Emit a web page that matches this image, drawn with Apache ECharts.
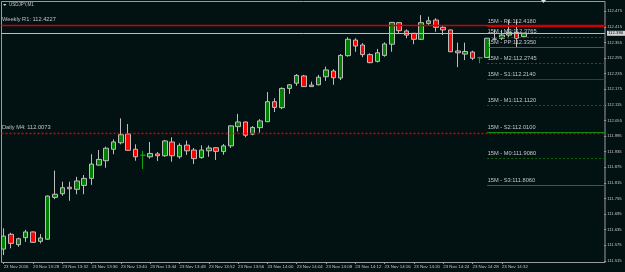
<!DOCTYPE html>
<html>
<head>
<meta charset="utf-8">
<script src="https://cdn.jsdelivr.net/npm/echarts@6/dist/echarts.min.js"></script>
<style>
html, body { margin: 0; padding: 0; background: #021213; }
#chart { width: 625px; height: 272px; }
</style>
</head>
<body>
<div id="chart"></div>
<script>
// minutes on 23 Nov 2016 (M1 bars), last 10 slots are the empty chart shift
var times = [
    '13:24','13:25','13:26','13:27','13:28','13:29','13:30','13:31','13:32','13:33',
    '13:34','13:35','13:36','13:37','13:38','13:39','13:40','13:41','13:42','13:43',
    '13:44','13:45','13:46','13:47','13:48','13:49','13:50','13:51','13:52','13:53',
    '13:54','13:55','13:56','13:57','13:58','13:59','14:00','14:01','14:02','14:03',
    '14:04','14:05','14:06','14:07','14:08','14:09','14:10','14:11','14:12','14:13',
    '14:14','14:15','14:16','14:17','14:18','14:19','14:20','14:21','14:22','14:23',
    '14:24','14:25','14:26','14:27','14:28','14:29','14:30','14:31','14:32','14:33',
    '14:34','14:35','14:36','14:37','14:38','14:39','14:40','14:41','14:42','14:43',
    '14:44','14:45'
];

var opens = [
    111.560, 111.617, 111.577, 111.604, 111.626, 111.590, 111.598, 111.759, 111.773, 111.798,
    111.790, 111.805, 111.832, 111.883, 111.900, 111.944, 111.969, 112.003, 111.944, 111.921,
    111.915, 111.926, 111.919, 111.972, 111.915, 111.960, 111.941, 111.912, 111.938, 111.950,
    111.935, 111.957, 112.031, 112.049, 112.002, 112.027, 112.050, 112.127, 112.104, 112.178,
    112.198, 112.226, 112.185, 112.192, 112.223, 112.245, 112.218, 112.304, 112.364, 112.345,
    112.308, 112.282, 112.305, 112.348, 112.431, 112.399, 112.390, 112.367, 112.428, 112.441,
    112.413, 112.403, 112.322, 112.310, 112.318, 112.296, 112.297, 112.368, 112.371, 112.383,
    112.394, 112.377
];
var closes = [
    111.610, 111.582, 111.600, 111.626, 111.586, 111.603, 111.764, 111.771, 111.796, 111.792,
    111.822, 111.832, 111.887, 111.905, 111.948, 111.972, 112.000, 111.940, 111.915, 111.921,
    111.928, 111.919, 111.976, 111.919, 111.959, 111.938, 111.908, 111.941, 111.949, 111.936,
    111.957, 112.034, 112.049, 111.998, 112.028, 112.053, 112.127, 112.105, 112.178, 112.192,
    112.228, 112.185, 112.191, 112.221, 112.249, 112.219, 112.305, 112.367, 112.341, 112.308,
    112.277, 112.315, 112.349, 112.432, 112.400, 112.383, 112.367, 112.431, 112.438, 112.413,
    112.403, 112.319, 112.315, 112.320, 112.294, 112.296, 112.371, 112.367, 112.383, 112.394,
    112.371, 112.390
];
var lows = [
    111.537, 111.563, 111.569, 111.588, 111.584, 111.582, 111.596, 111.752, 111.765, 111.746,
    111.771, 111.771, 111.807, 111.882, 111.873, 111.925, 111.963, 111.939, 111.900, 111.868,
    111.908, 111.899, 111.915, 111.896, 111.908, 111.922, 111.887, 111.908, 111.915, 111.903,
    111.923, 111.949, 112.012, 111.990, 111.998, 112.008, 112.049, 112.087, 112.098, 112.157,
    112.188, 112.184, 112.184, 112.190, 112.207, 112.192, 112.210, 112.300, 112.319, 112.298,
    112.275, 112.278, 112.300, 112.319, 112.387, 112.371, 112.348, 112.364, 112.418, 112.396,
    112.383, 112.318, 112.260, 112.287, 112.287, 112.275, 112.296, 112.364, 112.364, 112.371,
    112.335, 112.375
];
var highs = [
    111.640, 111.623, 111.604, 111.634, 111.628, 111.618, 111.766, 111.862, 111.819, 111.819,
    111.838, 111.845, 111.925, 111.941, 111.954, 111.982, 112.063, 112.041, 111.963, 111.938,
    111.972, 111.933, 111.980, 111.990, 111.967, 111.977, 111.949, 111.959, 111.959, 111.952,
    111.964, 112.036, 112.080, 112.050, 112.033, 112.060, 112.164, 112.140, 112.182, 112.195,
    112.233, 112.230, 112.204, 112.230, 112.262, 112.252, 112.310, 112.375, 112.371, 112.352,
    112.313, 112.330, 112.355, 112.433, 112.432, 112.405, 112.391, 112.460, 112.454, 112.448,
    112.418, 112.404, 112.354, 112.354, 112.323, 112.300, 112.372, 112.403, 112.403, 112.441,
    112.441, 112.391
];

var yTicks = [
    111.515, 111.575, 111.635, 111.695, 111.755, 111.815, 111.875, 111.935, 111.995,
    112.055, 112.115, 112.175, 112.235, 112.295, 112.355, 112.415, 112.475
];

// pivot levels drawn by the indicators
var levelNames = [
    'Weekly R1: ', 'Daily M4: ',
    '15M - R1:', '15M - M3:', '15M - PP:', '15M - M2:', '15M - S1:',
    '15M - M1:', '15M - S2:', '15M - M0:', '15M - S3:'
];
var levelValues = [
    112.4227, 112.0073,
    112.4180, 112.3765, 112.3350, 112.2745, 112.2140,
    112.1120, 112.0100, 111.9080, 111.8060
];
var levelStart = '14:30';   // 15M levels start at the current 15 minute bar

(function () {
    "use strict";

    var BAND = 7.36,
        GRID_LEFT = -2,
        GRID_W = BAND * times.length,
        GRID_R = GRID_LEFT + GRID_W,
        GRID_TOP = 2,
        GRID_BOTTOM_Y = 262,
        FRAME_L = 1.5,
        AXIS_X = 605,
        txt = '#c4c4c4',
        font = 'Liberation Sans',
        // colour / dash / width of each level, same order as levelNames
        levelStyles = [
            ['#d00000', 'solid', 1.4], ['#e00000', [2, 2], 1.3],
            ['#d00000', 'solid', 1], ['#d00000', [2, 2], 1.2], ['#a020a0', 'solid', 1],
            ['#0a6a0a', [2, 2], 1], ['#0a5c0a', 'solid', 1], ['#0a6a0a', [2, 2], 1],
            ['#138a13', 'solid', 1], ['#0a6a0a', [2, 2], 1], ['#1e6e1e', 'solid', 1]
        ],
        candles = [],
        marks = [],
        i, last, lbl, ls, item;

    for (i = 0; i < opens.length; i++) {
        item = { value: [opens[i], closes[i], lows[i], highs[i]] };
        if (opens[i] === closes[i]) {
            item.itemStyle = { borderColor: '#14a014', borderColor0: '#14a014' };
        }
        candles.push(item);
    }

    for (i = 0; i < levelValues.length; i++) {
        lbl = {
            show: true,
            position: 'insideStartTop',
            formatter: levelNames[i] + levelValues[i].toFixed(4),
            color: txt,
            fontSize: 5.7,
            fontFamily: font,
            distance: [0.5, 2]
        };
        ls = { color: levelStyles[i][0], type: levelStyles[i][1], width: levelStyles[i][2] };
        if (i < 2) {
            marks.push([
                { x: FRAME_L, yAxis: levelValues[i], lineStyle: ls, label: lbl },
                { x: AXIS_X, yAxis: levelValues[i] }
            ]);
        } else {
            marks.push([
                { xAxis: levelStart, yAxis: levelValues[i], lineStyle: ls, label: lbl },
                { x: AXIS_X, yAxis: levelValues[i] }
            ]);
        }
    }

    // bid line with price box on the axis
    last = closes[closes.length - 1];
    marks.push([
        { x: FRAME_L, yAxis: last, lineStyle: { color: '#bdbdbd', type: 'solid', width: 1 },
          label: {
              show: true,
              position: 'end',
              formatter: last.toFixed(3),
              color: '#000',
              backgroundColor: '#d4d4d4',
              padding: [1, 2, 0, 1],
              fontSize: 4.3,
              fontFamily: font,
              distance: 2
          } },
        { x: AXIS_X, yAxis: last }
    ]);

    var myChart = echarts.init(document.getElementById('chart'), null, { renderer: 'canvas' });

    myChart.setOption({
        animation: false,
        backgroundColor: '#021213',
        grid: {
            left: GRID_LEFT,
            top: GRID_TOP,
            width: GRID_W,
            height: GRID_BOTTOM_Y - GRID_TOP
        },
        xAxis: {
            type: 'category',
            data: times,
            boundaryGap: true,
            axisLine: { show: false },
            axisTick: {
                show: true,
                alignWithLabel: true,
                length: 2,
                interval: function (idx) { return idx % 4 === 0 && idx < opens.length; },
                lineStyle: { color: '#9a9a9a' }
            },
            axisLabel: {
                interval: function (idx) { return idx % 4 === 0 && idx < opens.length; },
                formatter: function (v, idx) { return idx === 0 ? '23 Nov 2016' : '23 Nov ' + v; },
                align: 'left',
                margin: 3,
                color: txt,
                fontSize: 4.4,
                fontFamily: font
            },
            splitLine: { show: false }
        },
        yAxis: {
            type: 'value',
            position: 'right',
            offset: AXIS_X - GRID_R,
            min: 111.5104,
            max: 112.5104,
            axisLine: { show: false },
            axisTick: {
                show: true,
                length: 2,
                customValues: yTicks,
                lineStyle: { color: '#9a9a9a' }
            },
            axisLabel: {
                customValues: yTicks,
                formatter: function (v) { return v.toFixed(3); },
                margin: 3,
                color: txt,
                fontSize: 4.2,
                fontFamily: font
            },
            splitLine: { show: false }
        },
        series: [{
            type: 'candlestick',
            data: candles,
            barWidth: 5,
            itemStyle: {
                color: '#008000',
                color0: '#ff0000',
                borderColor: '#bdbdbd',
                borderColor0: '#bdbdbd',
                borderWidth: 1
            },
            markLine: {
                silent: true,
                symbol: ['none', 'none'],
                animation: false,
                data: marks
            }
        }],
        graphic: [
            {
                type: 'rect',
                shape: { x: FRAME_L, y: 1.5, width: AXIS_X - FRAME_L, height: GRID_BOTTOM_Y + 0.5 - 1.5 },
                style: { fill: null, stroke: '#9a9a9a', lineWidth: 1 },
                silent: true
            },
            {
                type: 'polygon',
                shape: { points: [[3, 4], [6.5, 4], [4.75, 6]] },
                style: { fill: '#d0d0d0' }
            },
            {
                type: 'text',
                left: 9,
                top: 2.5,
                style: { text: 'USDJPY,M1', fill: txt, font: '4.5px "Liberation Sans"' }
            },
            {
                type: 'polygon',
                shape: { points: [[541, 0], [546, 0], [543.5, 3]] },
                style: { fill: '#e0e0e0' }
            }
        ]
    });
})();
</script>
</body>
</html>
